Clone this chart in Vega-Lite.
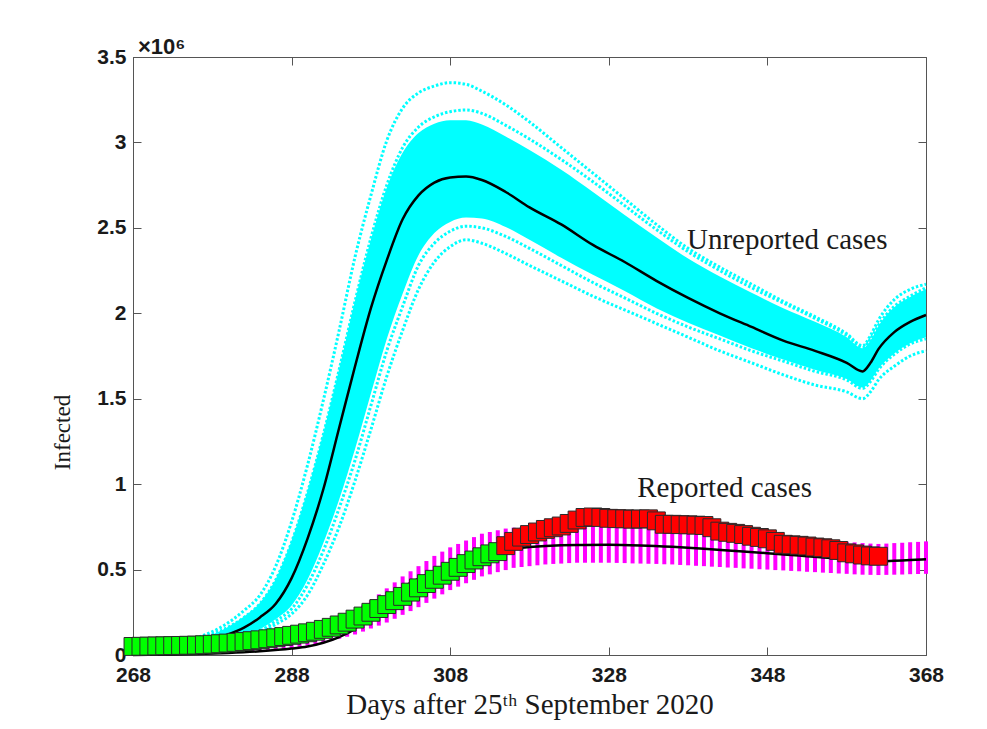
{
  "$schema": "https://vega.github.io/schema/vega-lite/v6.json",
  "autosize": "none",
  "width": 793,
  "height": 598,
  "padding": {"left": 133, "top": 57, "right": 61, "bottom": 74},
  "background": "white",
  "title": {"text": "×10⁶", "anchor": "start", "frame": "group", "font": "Liberation Sans", "fontSize": 22, "fontWeight": "bold", "color": "#1a1a1a", "offset": -13, "dx": 5},
  "config": {
    "view": {"stroke": "#555555", "strokeWidth": 1},
    "axis": {"grid": false, "domainColor": "#555555", "tickColor": "#555555", "tickWidth": 1, "labelOverlap": false}
  },
  "datasets": {
    "unrep": [
      {"day": 268, "m": 0.01, "lo": 0.009, "hi": 0.019, "u1": 0.023, "u2": 0.018, "l1": 0.01, "l2": 0.01},
      {"day": 272, "m": 0.03, "lo": 0.02, "hi": 0.044, "u1": 0.05, "u2": 0.044, "l1": 0.015, "l2": 0.02},
      {"day": 276, "m": 0.06, "lo": 0.043, "hi": 0.089, "u1": 0.10, "u2": 0.088, "l1": 0.035, "l2": 0.04},
      {"day": 279, "m": 0.105, "lo": 0.074, "hi": 0.14, "u1": 0.16, "u2": 0.14, "l1": 0.06, "l2": 0.07},
      {"day": 282, "m": 0.16, "lo": 0.115, "hi": 0.225, "u1": 0.26, "u2": 0.22, "l1": 0.10, "l2": 0.11},
      {"day": 284, "m": 0.22, "lo": 0.15, "hi": 0.305, "u1": 0.35, "u2": 0.30, "l1": 0.13, "l2": 0.14},
      {"day": 286, "m": 0.30, "lo": 0.21, "hi": 0.445, "u1": 0.52, "u2": 0.44, "l1": 0.18, "l2": 0.20},
      {"day": 288, "m": 0.45, "lo": 0.29, "hi": 0.67, "u1": 0.78, "u2": 0.66, "l1": 0.24, "l2": 0.27},
      {"day": 290, "m": 0.68, "lo": 0.44, "hi": 0.96, "u1": 1.11, "u2": 0.95, "l1": 0.35, "l2": 0.41},
      {"day": 292, "m": 0.97, "lo": 0.655, "hi": 1.30, "u1": 1.49, "u2": 1.29, "l1": 0.53, "l2": 0.61},
      {"day": 294, "m": 1.33, "lo": 0.91, "hi": 1.675, "u1": 1.90, "u2": 1.67, "l1": 0.75, "l2": 0.86},
      {"day": 296, "m": 1.69, "lo": 1.205, "hi": 2.075, "u1": 2.33, "u2": 2.07, "l1": 1.02, "l2": 1.14},
      {"day": 298, "m": 2.03, "lo": 1.53, "hi": 2.43, "u1": 2.69, "u2": 2.44, "l1": 1.32, "l2": 1.46},
      {"day": 300, "m": 2.31, "lo": 1.85, "hi": 2.735, "u1": 3.01, "u2": 2.75, "l1": 1.63, "l2": 1.78},
      {"day": 302, "m": 2.55, "lo": 2.115, "hi": 2.94, "u1": 3.20, "u2": 2.97, "l1": 1.90, "l2": 2.04},
      {"day": 304, "m": 2.69, "lo": 2.34, "hi": 3.055, "u1": 3.29, "u2": 3.09, "l1": 2.14, "l2": 2.28},
      {"day": 306, "m": 2.765, "lo": 2.47, "hi": 3.11, "u1": 3.33, "u2": 3.15, "l1": 2.30, "l2": 2.41},
      {"day": 308, "m": 2.795, "lo": 2.535, "hi": 3.13, "u1": 3.35, "u2": 3.18, "l1": 2.39, "l2": 2.48},
      {"day": 310, "m": 2.80, "lo": 2.56, "hi": 3.13, "u1": 3.34, "u2": 3.19, "l1": 2.43, "l2": 2.51},
      {"day": 312, "m": 2.78, "lo": 2.555, "hi": 3.105, "u1": 3.30, "u2": 3.17, "l1": 2.41, "l2": 2.50},
      {"day": 315, "m": 2.71, "lo": 2.505, "hi": 3.035, "u1": 3.22, "u2": 3.10, "l1": 2.35, "l2": 2.45},
      {"day": 318, "m": 2.62, "lo": 2.43, "hi": 2.955, "u1": 3.12, "u2": 3.02, "l1": 2.28, "l2": 2.38},
      {"day": 322, "m": 2.52, "lo": 2.325, "hi": 2.84, "u1": 2.97, "u2": 2.90, "l1": 2.19, "l2": 2.28},
      {"day": 326, "m": 2.40, "lo": 2.225, "hi": 2.71, "u1": 2.82, "u2": 2.77, "l1": 2.10, "l2": 2.18},
      {"day": 330, "m": 2.30, "lo": 2.13, "hi": 2.575, "u1": 2.67, "u2": 2.63, "l1": 2.02, "l2": 2.09},
      {"day": 334, "m": 2.19, "lo": 2.03, "hi": 2.445, "u1": 2.52, "u2": 2.49, "l1": 1.94, "l2": 2.00},
      {"day": 338, "m": 2.09, "lo": 1.945, "hi": 2.32, "u1": 2.38, "u2": 2.36, "l1": 1.86, "l2": 1.92},
      {"day": 342, "m": 2.00, "lo": 1.87, "hi": 2.215, "u1": 2.27, "u2": 2.25, "l1": 1.78, "l2": 1.85},
      {"day": 346, "m": 1.92, "lo": 1.795, "hi": 2.12, "u1": 2.17, "u2": 2.15, "l1": 1.71, "l2": 1.78},
      {"day": 350, "m": 1.84, "lo": 1.73, "hi": 2.03, "u1": 2.07, "u2": 2.06, "l1": 1.64, "l2": 1.72},
      {"day": 354, "m": 1.78, "lo": 1.67, "hi": 1.95, "u1": 1.98, "u2": 1.97, "l1": 1.58, "l2": 1.66},
      {"day": 358, "m": 1.71, "lo": 1.615, "hi": 1.86, "u1": 1.88, "u2": 1.87, "l1": 1.54, "l2": 1.61},
      {"day": 360, "m": 1.66, "lo": 1.565, "hi": 1.795, "u1": 1.81, "u2": 1.80, "l1": 1.50, "l2": 1.56},
      {"day": 361, "m": 1.71, "lo": 1.605, "hi": 1.84, "u1": 1.87, "u2": 1.85, "l1": 1.54, "l2": 1.60},
      {"day": 362, "m": 1.79, "lo": 1.675, "hi": 1.925, "u1": 1.96, "u2": 1.93, "l1": 1.61, "l2": 1.67},
      {"day": 364, "m": 1.89, "lo": 1.765, "hi": 2.035, "u1": 2.08, "u2": 2.04, "l1": 1.69, "l2": 1.76},
      {"day": 366, "m": 1.95, "lo": 1.825, "hi": 2.095, "u1": 2.14, "u2": 2.10, "l1": 1.75, "l2": 1.82},
      {"day": 368, "m": 1.99, "lo": 1.86, "hi": 2.14, "u1": 2.17, "u2": 2.15, "l1": 1.78, "l2": 1.85}
    ],
    "mag": [
      {"day": 268, "mlo": 0.001, "mhi": 0.005}, {"day": 269, "mlo": 0.002, "mhi": 0.006}, {"day": 270, "mlo": 0.003, "mhi": 0.008},
      {"day": 271, "mlo": 0.004, "mhi": 0.01}, {"day": 272, "mlo": 0.004, "mhi": 0.012}, {"day": 273, "mlo": 0.005, "mhi": 0.014},
      {"day": 274, "mlo": 0.006, "mhi": 0.016}, {"day": 275, "mlo": 0.007, "mhi": 0.018}, {"day": 276, "mlo": 0.008, "mhi": 0.02},
      {"day": 277, "mlo": 0.01, "mhi": 0.025}, {"day": 278, "mlo": 0.011, "mhi": 0.03}, {"day": 279, "mlo": 0.013, "mhi": 0.035},
      {"day": 280, "mlo": 0.015, "mhi": 0.04}, {"day": 281, "mlo": 0.017, "mhi": 0.047}, {"day": 282, "mlo": 0.02, "mhi": 0.055},
      {"day": 283, "mlo": 0.022, "mhi": 0.062}, {"day": 284, "mlo": 0.025, "mhi": 0.07}, {"day": 285, "mlo": 0.029, "mhi": 0.08},
      {"day": 286, "mlo": 0.032, "mhi": 0.09}, {"day": 287, "mlo": 0.036, "mhi": 0.10}, {"day": 288, "mlo": 0.04, "mhi": 0.11},
      {"day": 289, "mlo": 0.047, "mhi": 0.125}, {"day": 290, "mlo": 0.055, "mhi": 0.14}, {"day": 291, "mlo": 0.062, "mhi": 0.155},
      {"day": 292, "mlo": 0.07, "mhi": 0.17}, {"day": 293, "mlo": 0.082, "mhi": 0.19}, {"day": 294, "mlo": 0.095, "mhi": 0.21},
      {"day": 295, "mlo": 0.107, "mhi": 0.235}, {"day": 296, "mlo": 0.12, "mhi": 0.26}, {"day": 297, "mlo": 0.137, "mhi": 0.29},
      {"day": 298, "mlo": 0.155, "mhi": 0.32}, {"day": 299, "mlo": 0.172, "mhi": 0.355}, {"day": 300, "mlo": 0.19, "mhi": 0.39},
      {"day": 301, "mlo": 0.212, "mhi": 0.425}, {"day": 302, "mlo": 0.235, "mhi": 0.46}, {"day": 303, "mlo": 0.257, "mhi": 0.49},
      {"day": 304, "mlo": 0.28, "mhi": 0.52}, {"day": 305, "mlo": 0.305, "mhi": 0.55}, {"day": 306, "mlo": 0.33, "mhi": 0.58},
      {"day": 307, "mlo": 0.355, "mhi": 0.605}, {"day": 308, "mlo": 0.38, "mhi": 0.63}, {"day": 309, "mlo": 0.40, "mhi": 0.65},
      {"day": 310, "mlo": 0.42, "mhi": 0.67}, {"day": 311, "mlo": 0.44, "mhi": 0.69}, {"day": 312, "mlo": 0.46, "mhi": 0.71},
      {"day": 313, "mlo": 0.472, "mhi": 0.72}, {"day": 314, "mlo": 0.485, "mhi": 0.73}, {"day": 315, "mlo": 0.497, "mhi": 0.74},
      {"day": 316, "mlo": 0.51, "mhi": 0.745}, {"day": 317, "mlo": 0.515, "mhi": 0.748}, {"day": 318, "mlo": 0.52, "mhi": 0.75},
      {"day": 319, "mlo": 0.525, "mhi": 0.753}, {"day": 320, "mlo": 0.53, "mhi": 0.755}, {"day": 321, "mlo": 0.533, "mhi": 0.757},
      {"day": 322, "mlo": 0.535, "mhi": 0.758}, {"day": 323, "mlo": 0.538, "mhi": 0.759}, {"day": 324, "mlo": 0.54, "mhi": 0.76},
      {"day": 325, "mlo": 0.54, "mhi": 0.76}, {"day": 326, "mlo": 0.54, "mhi": 0.76}, {"day": 327, "mlo": 0.54, "mhi": 0.76},
      {"day": 328, "mlo": 0.54, "mhi": 0.76}, {"day": 329, "mlo": 0.539, "mhi": 0.759}, {"day": 330, "mlo": 0.538, "mhi": 0.758},
      {"day": 331, "mlo": 0.536, "mhi": 0.757}, {"day": 332, "mlo": 0.535, "mhi": 0.755}, {"day": 333, "mlo": 0.534, "mhi": 0.753},
      {"day": 334, "mlo": 0.533, "mhi": 0.75}, {"day": 335, "mlo": 0.531, "mhi": 0.748}, {"day": 336, "mlo": 0.53, "mhi": 0.745},
      {"day": 337, "mlo": 0.527, "mhi": 0.741}, {"day": 338, "mlo": 0.525, "mhi": 0.737}, {"day": 339, "mlo": 0.522, "mhi": 0.734},
      {"day": 340, "mlo": 0.52, "mhi": 0.73}, {"day": 341, "mlo": 0.517, "mhi": 0.726}, {"day": 342, "mlo": 0.515, "mhi": 0.722},
      {"day": 343, "mlo": 0.512, "mhi": 0.719}, {"day": 344, "mlo": 0.51, "mhi": 0.715}, {"day": 345, "mlo": 0.507, "mhi": 0.711},
      {"day": 346, "mlo": 0.505, "mhi": 0.707}, {"day": 347, "mlo": 0.502, "mhi": 0.704}, {"day": 348, "mlo": 0.50, "mhi": 0.70},
      {"day": 349, "mlo": 0.497, "mhi": 0.696}, {"day": 350, "mlo": 0.495, "mhi": 0.692}, {"day": 351, "mlo": 0.492, "mhi": 0.689},
      {"day": 352, "mlo": 0.49, "mhi": 0.685}, {"day": 353, "mlo": 0.487, "mhi": 0.681}, {"day": 354, "mlo": 0.485, "mhi": 0.677},
      {"day": 355, "mlo": 0.482, "mhi": 0.674}, {"day": 356, "mlo": 0.48, "mhi": 0.67}, {"day": 357, "mlo": 0.477, "mhi": 0.666},
      {"day": 358, "mlo": 0.475, "mhi": 0.662}, {"day": 359, "mlo": 0.472, "mhi": 0.659}, {"day": 360, "mlo": 0.47, "mhi": 0.655},
      {"day": 361, "mlo": 0.469, "mhi": 0.652}, {"day": 362, "mlo": 0.468, "mhi": 0.65}, {"day": 363, "mlo": 0.469, "mhi": 0.652},
      {"day": 364, "mlo": 0.47, "mhi": 0.655}, {"day": 365, "mlo": 0.471, "mhi": 0.657}, {"day": 366, "mlo": 0.473, "mhi": 0.66},
      {"day": 367, "mlo": 0.474, "mhi": 0.662}, {"day": 368, "mlo": 0.475, "mhi": 0.665}
    ],
    "repmean": [
      {"day": 268, "r": 0.0}, {"day": 272, "r": 0.003}, {"day": 276, "r": 0.006}, {"day": 280, "r": 0.012},
      {"day": 284, "r": 0.022}, {"day": 288, "r": 0.038}, {"day": 290, "r": 0.05}, {"day": 292, "r": 0.072},
      {"day": 294, "r": 0.105}, {"day": 296, "r": 0.155}, {"day": 298, "r": 0.245}, {"day": 300, "r": 0.33},
      {"day": 302, "r": 0.395}, {"day": 304, "r": 0.447}, {"day": 306, "r": 0.49}, {"day": 308, "r": 0.53},
      {"day": 310, "r": 0.565}, {"day": 312, "r": 0.595}, {"day": 314, "r": 0.612}, {"day": 316, "r": 0.624},
      {"day": 318, "r": 0.632}, {"day": 320, "r": 0.638}, {"day": 324, "r": 0.644}, {"day": 328, "r": 0.645},
      {"day": 332, "r": 0.641}, {"day": 336, "r": 0.633}, {"day": 340, "r": 0.622}, {"day": 344, "r": 0.609},
      {"day": 348, "r": 0.596}, {"day": 352, "r": 0.582}, {"day": 356, "r": 0.568}, {"day": 360, "r": 0.553},
      {"day": 362, "r": 0.547}, {"day": 364, "r": 0.551}, {"day": 366, "r": 0.556}, {"day": 368, "r": 0.56}
    ],
    "green": [
      {"day": 268, "cases": 0.050}, {"day": 269, "cases": 0.051}, {"day": 270, "cases": 0.052}, {"day": 271, "cases": 0.053},
      {"day": 272, "cases": 0.054}, {"day": 273, "cases": 0.055}, {"day": 274, "cases": 0.056}, {"day": 275, "cases": 0.057},
      {"day": 276, "cases": 0.058}, {"day": 277, "cases": 0.060}, {"day": 278, "cases": 0.063}, {"day": 279, "cases": 0.066},
      {"day": 280, "cases": 0.070}, {"day": 281, "cases": 0.074}, {"day": 282, "cases": 0.079}, {"day": 283, "cases": 0.084},
      {"day": 284, "cases": 0.089}, {"day": 285, "cases": 0.095}, {"day": 286, "cases": 0.101}, {"day": 287, "cases": 0.108},
      {"day": 288, "cases": 0.115}, {"day": 289, "cases": 0.122}, {"day": 290, "cases": 0.130}, {"day": 291, "cases": 0.139},
      {"day": 292, "cases": 0.150}, {"day": 293, "cases": 0.162}, {"day": 294, "cases": 0.176}, {"day": 295, "cases": 0.192},
      {"day": 296, "cases": 0.210}, {"day": 297, "cases": 0.228}, {"day": 298, "cases": 0.250}, {"day": 299, "cases": 0.272},
      {"day": 300, "cases": 0.295}, {"day": 301, "cases": 0.318}, {"day": 302, "cases": 0.343}, {"day": 303, "cases": 0.368},
      {"day": 304, "cases": 0.393}, {"day": 305, "cases": 0.418}, {"day": 306, "cases": 0.443}, {"day": 307, "cases": 0.467},
      {"day": 308, "cases": 0.490}, {"day": 309, "cases": 0.513}, {"day": 310, "cases": 0.535}, {"day": 311, "cases": 0.556},
      {"day": 312, "cases": 0.575}, {"day": 313, "cases": 0.592}, {"day": 314, "cases": 0.605}
    ],
    "red": [
      {"day": 315, "cases": 0.640}, {"day": 316, "cases": 0.665}, {"day": 317, "cases": 0.690}, {"day": 318, "cases": 0.705},
      {"day": 319, "cases": 0.720}, {"day": 320, "cases": 0.735}, {"day": 321, "cases": 0.745}, {"day": 322, "cases": 0.755},
      {"day": 323, "cases": 0.770}, {"day": 324, "cases": 0.790}, {"day": 325, "cases": 0.805}, {"day": 326, "cases": 0.808},
      {"day": 327, "cases": 0.805}, {"day": 328, "cases": 0.800}, {"day": 329, "cases": 0.798}, {"day": 330, "cases": 0.797},
      {"day": 331, "cases": 0.795}, {"day": 332, "cases": 0.796}, {"day": 333, "cases": 0.797}, {"day": 334, "cases": 0.785},
      {"day": 335, "cases": 0.765}, {"day": 336, "cases": 0.765}, {"day": 337, "cases": 0.763}, {"day": 338, "cases": 0.762},
      {"day": 339, "cases": 0.760}, {"day": 340, "cases": 0.758}, {"day": 341, "cases": 0.745}, {"day": 342, "cases": 0.725},
      {"day": 343, "cases": 0.718}, {"day": 344, "cases": 0.712}, {"day": 345, "cases": 0.705}, {"day": 346, "cases": 0.695},
      {"day": 347, "cases": 0.688}, {"day": 348, "cases": 0.680}, {"day": 349, "cases": 0.665}, {"day": 350, "cases": 0.648},
      {"day": 351, "cases": 0.645}, {"day": 352, "cases": 0.642}, {"day": 353, "cases": 0.638}, {"day": 354, "cases": 0.632},
      {"day": 355, "cases": 0.628}, {"day": 356, "cases": 0.622}, {"day": 357, "cases": 0.612}, {"day": 358, "cases": 0.598},
      {"day": 359, "cases": 0.592}, {"day": 360, "cases": 0.585}, {"day": 361, "cases": 0.580}, {"day": 362, "cases": 0.578}
    ],
    "labels": [
      {"label": "Unreported cases", "day": 350.5, "v": 2.43},
      {"label": "Reported cases", "day": 342.6, "v": 0.98}
    ]
  },
  "layer": [
    {
      "data": {"name": "unrep"},
      "mark": {"type": "area", "color": "#00ffff", "interpolate": "monotone", "opacity": 1},
      "encoding": {
        "x": {"field": "day", "type": "quantitative", "scale": {"domain": [268, 368], "nice": false, "zero": false},
          "axis": {"values": [268, 288, 308, 328, 348, 368], "title": "Days after 25ᵗʰ September 2020", "tickSize": -8, "labelPadding": 17, "labelFlush": false,
            "labelFont": "Liberation Sans", "labelFontWeight": "bold", "labelFontSize": 21, "labelColor": "#1a1a1a",
            "titleFont": "Liberation Serif", "titleFontSize": 29, "titleFontWeight": "normal", "titleColor": "#1a1a1a", "titleY": 58, "titleBaseline": "alphabetic"}},
        "y": {"field": "lo", "type": "quantitative", "scale": {"domain": [0, 3.5], "nice": false},
          "axis": {"values": [0, 0.5, 1, 1.5, 2, 2.5, 3, 3.5], "format": "~g", "title": "Infected", "tickSize": -8, "labelPadding": 15,
            "labelFont": "Liberation Sans", "labelFontWeight": "bold", "labelFontSize": 21, "labelColor": "#1a1a1a",
            "titleFont": "Liberation Serif", "titleFontSize": 23, "titleFontWeight": "normal", "titleColor": "#1a1a1a",
            "titleX": -71, "titleY": 375, "titleAngle": 270, "titleAlign": "center", "titleBaseline": "middle"}},
        "y2": {"field": "hi"}
      }
    },
    {
      "data": {"name": "unrep"},
      "transform": [{"fold": ["u1", "u2", "l1", "l2"], "as": ["curve", "value"]}],
      "mark": {"type": "line", "color": "#00ffff", "strokeWidth": 3, "strokeDash": [2.5, 2], "interpolate": "monotone"},
      "encoding": {
        "x": {"field": "day", "type": "quantitative", "axis": null},
        "y": {"field": "value", "type": "quantitative", "axis": null},
        "detail": {"field": "curve"}
      }
    },
    {
      "data": {"name": "unrep"},
      "mark": {"type": "line", "color": "#000000", "strokeWidth": 2.5, "interpolate": "monotone"},
      "encoding": {
        "x": {"field": "day", "type": "quantitative", "axis": null},
        "y": {"field": "m", "type": "quantitative", "axis": null}
      }
    },
    {
      "data": {"name": "mag"},
      "mark": {"type": "rule", "color": "#ff00ff", "strokeWidth": 4},
      "encoding": {
        "x": {"field": "day", "type": "quantitative", "axis": null},
        "y": {"field": "mlo", "type": "quantitative", "axis": null},
        "y2": {"field": "mhi"}
      }
    },
    {
      "data": {"name": "repmean"},
      "mark": {"type": "line", "color": "#000000", "strokeWidth": 2.5, "interpolate": "monotone"},
      "encoding": {
        "x": {"field": "day", "type": "quantitative", "axis": null},
        "y": {"field": "r", "type": "quantitative", "axis": null}
      }
    },
    {
      "data": {"name": "green"},
      "mark": {"type": "point", "shape": "square", "filled": true, "fill": "#00ff00", "stroke": "#2a2a2a", "strokeWidth": 1, "size": 320, "opacity": 1},
      "encoding": {
        "x": {"field": "day", "type": "quantitative", "axis": null},
        "y": {"field": "cases", "type": "quantitative", "axis": null}
      }
    },
    {
      "data": {"name": "red"},
      "mark": {"type": "point", "shape": "square", "filled": true, "fill": "#ff0000", "stroke": "#2a2a2a", "strokeWidth": 1, "size": 320, "opacity": 1},
      "encoding": {
        "x": {"field": "day", "type": "quantitative", "axis": null},
        "y": {"field": "cases", "type": "quantitative", "axis": null}
      }
    },
    {
      "data": {"name": "labels"},
      "mark": {"type": "text", "font": "Liberation Serif", "fontSize": 29, "color": "#1a1a1a", "align": "center", "baseline": "middle"},
      "encoding": {
        "x": {"field": "day", "type": "quantitative",
          "axis": {"orient": "top", "values": [268, 288, 308, 328, 348, 368], "labels": false, "title": null, "domain": false, "tickSize": -8}},
        "y": {"field": "v", "type": "quantitative",
          "axis": {"orient": "right", "values": [0, 0.5, 1, 1.5, 2, 2.5, 3, 3.5], "labels": false, "title": null, "domain": false, "tickSize": -8}},
        "text": {"field": "label"}
      }
    }
  ],
  "resolve": {"axis": {"x": "independent", "y": "independent"}}
}
